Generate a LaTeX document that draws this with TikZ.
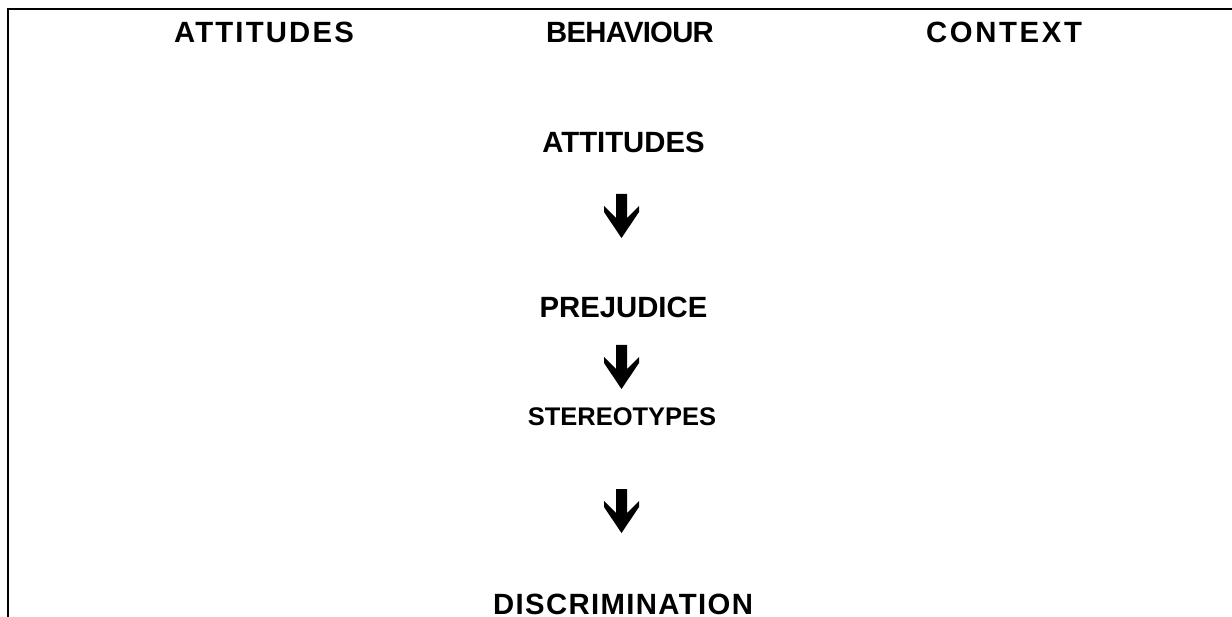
\documentclass[tikz,border=0pt]{standalone}
\usepackage{fontspec}
\setmainfont{Liberation Sans}
\begin{document}
\begin{tikzpicture}[x=1pt,y=-1pt,
  lbl/.style={font=\fontsize{29.3}{32}\selectfont\bfseries, inner sep=0pt, anchor=base},
  spaced/.style={font=\fontsize{29.3}{32}\selectfont\bfseries\addfontfeatures{LetterSpace=#1}},
  frameline/.style={line width=2pt, black},
  blockarrow/.pic={\fill[black] (-5.5,0) -- (5.5,0) -- (5.5,24) -- (17.5,12) -- (17.5,18) -- (0,44) -- (-17.5,18) -- (-17.5,12) -- (-5.5,24) -- cycle;}]
\useasboundingbox (0,0) rectangle (1232,617);
% frame
\coordinate (tr) at (1232,9.5);
\coordinate (tl) at (7.5,9.5);
\coordinate (bl) at (7.5,617);
\draw[frameline] (tr) -- (tl) -- (bl);
% headings
\node[lbl, spaced=7.5] (hatt) at (264,43) {ATTITUDES};
\node[lbl, spaced=-2.5] (hbeh) at (630,43) {BEHAVIOUR};
\node[lbl, spaced=9] (hctx) at (1004,43) {CONTEXT};
% chain
\node[lbl] (att) at (623.5,153) {ATTITUDES};
\node[lbl] (pre) at (623.5,318) {PREJUDICE};
\node[lbl, font=\fontsize{25.5}{28}\selectfont\bfseries] (ste) at (622,426) {STEREOTYPES};
\node[lbl, spaced=4.7] (dis) at (623,614) {DISCRIMINATION};
% block arrows
\pic (a1) at (621.5,194) {blockarrow};
\pic (a2) at (621.5,345) {blockarrow};
\pic (a3) at (621.5,489) {blockarrow};
\end{tikzpicture}
\end{document}
